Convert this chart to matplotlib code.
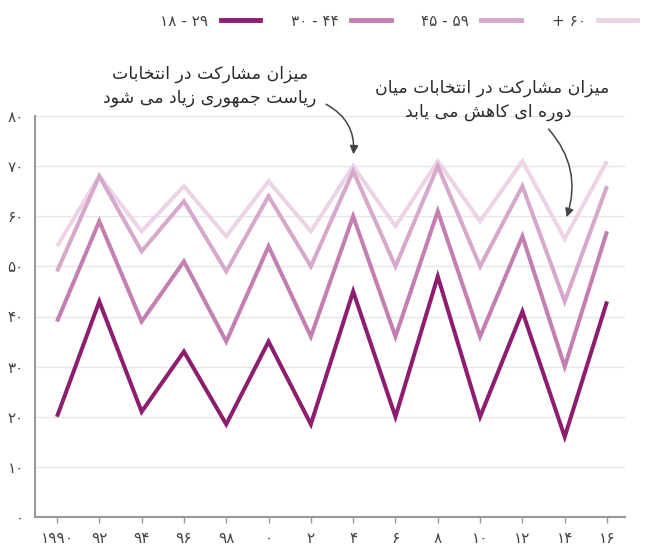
import matplotlib
matplotlib.use("Agg")
import matplotlib.pyplot as plt
from matplotlib.lines import Line2D

# --- data ---
years = [1990, 1992, 1994, 1996, 1998, 2000, 2002, 2004, 2006, 2008, 2010, 2012, 2014, 2016]
year_labels = ['۱۹۹۰', '۹۲', '۹۴', '۹۶', '۹۸', '۰', '۲', '۴', '۶', '۸', '۱۰', '۱۲', '۱۴', '۱۶']
age_18_29 = [20, 43, 21, 33, 18.5, 35, 18.5, 45, 20, 48, 20, 41, 16, 43]
age_30_44 = [39, 59, 39, 51, 35, 54, 36, 60, 36, 61, 36, 56, 30, 57]
age_45_59 = [49, 68, 53, 63, 49, 64, 50, 69, 50, 70, 50, 66, 43, 66]
age_60_up = [54, 68, 57, 66, 56, 67, 57, 70, 58, 71, 59, 71, 55.5, 71]
series_labels = ['۱۸ - ۲۹', '۳۰ - ۴۴', '۴۵ - ۵۹', '+ ۶۰']
y_ticks = [0, 10, 20, 30, 40, 50, 60, 70, 80]
y_labels = ['۰', '۱۰', '۲۰', '۳۰', '۴۰', '۵۰', '۶۰', '۷۰', '۸۰']

note_presidential = ['میزان مشارکت در انتخابات', 'ریاست جمهوری زیاد می شود']
note_midterm = ['میزان مشارکت در انتخابات میان', 'دوره ای کاهش می یابد']

colors = ['#8c1d6f', '#c27fb0', '#d6a8cb', '#ecd3e6']


# matplotlib has no arabic shaping, so pick presentation forms by hand
FORMS = {
    'ا': ('\uFE8D', '\uFE8E'), 'د': ('\uFEA9', '\uFEAA'), 'ر': ('\uFEAD', '\uFEAE'),
    'ز': ('\uFEAF', '\uFEB0'), 'و': ('\uFEED', '\uFEEE'),
    'ب': ('\uFE8F', '\uFE90', '\uFE91', '\uFE92'), 'ت': ('\uFE95', '\uFE96', '\uFE97', '\uFE98'),
    'ج': ('\uFE9D', '\uFE9E', '\uFE9F', '\uFEA0'), 'خ': ('\uFEA5', '\uFEA6', '\uFEA7', '\uFEA8'),
    'س': ('\uFEB1', '\uFEB2', '\uFEB3', '\uFEB4'), 'ش': ('\uFEB5', '\uFEB6', '\uFEB7', '\uFEB8'),
    'م': ('\uFEE1', '\uFEE2', '\uFEE3', '\uFEE4'), 'ن': ('\uFEE5', '\uFEE6', '\uFEE7', '\uFEE8'),
    'ه': ('\uFEE9', '\uFEEA', '\uFEEB', '\uFEEC'), 'ی': ('\uFBFC', '\uFBFD', '\uFBFE', '\uFBFF'),
    'ک': ('\uFB8E', '\uFB8F', '\uFB90', '\uFB91'),
}


def shape(text):
    out = []
    for i, ch in enumerate(text):
        if ch not in FORMS:
            out.append(ch)
            continue
        prev = text[i - 1] if i > 0 else ''
        nxt = text[i + 1] if i + 1 < len(text) else ''
        join_prev = prev in FORMS and len(FORMS[prev]) == 4
        join_next = len(FORMS[ch]) == 4 and nxt in FORMS
        f = FORMS[ch]
        if join_prev and join_next:
            out.append(f[3])
        elif join_prev:
            out.append(f[1])
        elif join_next:
            out.append(f[2])
        else:
            out.append(f[0])
    return ''.join(out)[::-1]


W, H = 648, 548
fig = plt.figure(figsize=(W / 100, H / 100), dpi=100)
ax = fig.add_axes([35 / W, 31 / H, 590 / W, 401 / H])

for vals, c in zip([age_60_up, age_45_59, age_30_44, age_18_29], colors[::-1]):
    ax.plot(years, vals, color=c, lw=2.9, solid_joinstyle='miter', solid_capstyle='butt')

ax.set_xlim(1988.96, 2016.85)
ax.set_ylim(0, 80)
ax.set_xticks(years)
ax.set_xticklabels(year_labels, family='DejaVu Sans')
ax.set_yticks(y_ticks)
ax.set_yticklabels(y_labels, family='DejaVu Sans')
ax.tick_params(axis='x', length=4, width=1, color='#999999', labelsize=11, labelcolor='#444444', pad=6)
ax.tick_params(axis='y', length=0, labelsize=11, labelcolor='#444444', pad=8)
ax.grid(axis='y', color='#e6e6e6', lw=1)
ax.set_axisbelow(True)
for s in ['top', 'right']:
    ax.spines[s].set_visible(False)
for s in ['left', 'bottom']:
    ax.spines[s].set_color('#999999')
    ax.spines[s].set_linewidth(1.5)

handles = [Line2D([], [], color=c, lw=3.5) for c in colors]
fig.legend(handles, series_labels, loc='upper right', bbox_to_anchor=(1.005, 1.0), ncol=4,
           frameon=False, markerfirst=False, handlelength=2.6, handletextpad=0.8,
           columnspacing=2.0, prop={'family': 'DejaVu Sans', 'size': 11}, labelcolor='#444444')

for txt, x, y in [(note_presidential[0], 210, 74), (note_presidential[1], 210, 98),
                  (note_midterm[0], 492, 88), (note_midterm[1], 488, 112)]:
    fig.text(x / W, 1 - y / H, shape(txt), ha='center', va='center', fontsize=12.5,
             family='DejaVu Sans', color='#2b2b2b')

arrow = dict(arrowstyle='-|>,head_length=0.5,head_width=0.25', color='#444444', lw=1.1)
ax.annotate('', xy=(2004.0, 71.8), xytext=(2002.6, 82.6), annotation_clip=False,
            arrowprops=dict(arrow, connectionstyle='arc3,rad=-0.35'))
ax.annotate('', xy=(2014.05, 59.3), xytext=(2013.15, 77.8), annotation_clip=False,
            arrowprops=dict(arrow, connectionstyle='arc3,rad=-0.3'))

fig.savefig('out.png', dpi=100)
